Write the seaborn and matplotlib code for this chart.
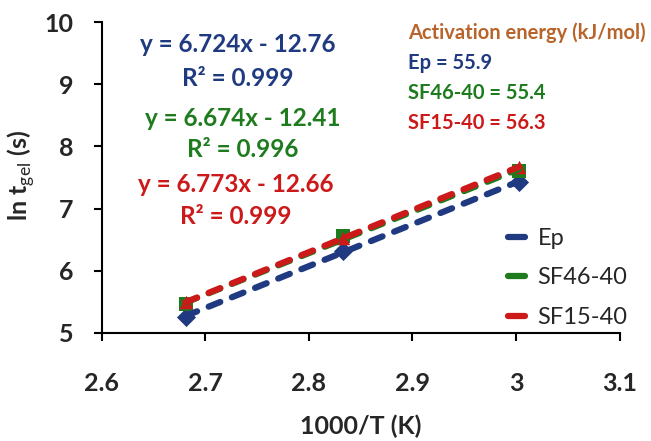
import numpy as np
import pandas as pd
import matplotlib
matplotlib.use('Agg')
import matplotlib.pyplot as plt
from matplotlib.lines import Line2D
import seaborn as sns

# 1000/T values (K^-1 x 1000) and ln(t_gel) readings
inv_temp = [2.681, 2.833, 3.003]
ln_ep = [5.26, 6.32, 7.43]
ln_sf46 = [5.46, 6.56, 7.61]
ln_sf15 = [5.49, 6.53, 7.67]

series_names = ['Ep', 'SF46-40', 'SF15-40']
series_colors = ['#1F3A80', '#1E7B1E', '#CC1A1A']
series_markers = ['D', 's', '^']
fit_labels = [('y = 6.724x - 12.76', 'R² = 0.999'),
              ('y = 6.674x - 12.41', 'R² = 0.996'),
              ('y = 6.773x - 12.66', 'R² = 0.999')]
ea_values = [55.9, 55.4, 56.3]

sns.set_style('ticks')
plt.rcParams['font.family'] = ['Lato', 'DejaVu Sans']
plt.rcParams['mathtext.fontset'] = 'custom'
plt.rcParams['mathtext.rm'] = 'Lato'
plt.rcParams['mathtext.bf'] = 'Lato:bold'

df = pd.DataFrame({'x': inv_temp * 3,
                   'y': ln_ep + ln_sf46 + ln_sf15,
                   'sample': np.repeat(series_names, 3)})

fig = plt.figure(figsize=(6.51, 4.41), dpi=100)
ax = fig.add_axes([0.156, 0.245, 0.796, 0.705])

for name, col, mk in zip(series_names, series_colors, series_markers):
    sub = df[df['sample'] == name]
    sns.regplot(data=sub, x='x', y='y', ax=ax, ci=None, truncate=True,
                marker=mk, color=col,
                scatter_kws=dict(s=95, zorder=2, linewidths=0, alpha=1),
                line_kws=dict(lw=4.5, ls=(0, (2.0, 2.0)), dash_capstyle='round', zorder=3))

ax.set_xlim(2.6, 3.1)
ax.set_ylim(5, 10)
ax.set_xticks([2.6, 2.7, 2.8, 2.9, 3.0, 3.1])
ax.set_xticklabels(['2.6', '2.7', '2.8', '2.9', '3', '3.1'])
ax.set_yticks([5, 6, 7, 8, 9, 10])
for lab in ax.get_xticklabels() + ax.get_yticklabels():
    lab.set_fontweight('bold')
    lab.set_fontsize(18)
ax.tick_params(direction='out', length=6, width=1.5, color='black')
ax.tick_params(axis='x', pad=22)
ax.tick_params(axis='y', pad=14)
for s in ['left', 'bottom']:
    ax.spines[s].set_linewidth(1.5)
    ax.spines[s].set_color('black')
sns.despine(ax=ax)

ax.set_xlabel('1000/T (K)', fontsize=18, fontweight='bold')
ax.set_ylabel(r'ln t$_{\mathrm{gel}}$ (s)', fontsize=18, fontweight='bold')
ax.xaxis.set_label_coords(0.5, -0.262)
ax.yaxis.set_label_coords(-0.125, 0.505)

# trendline equations
eq_pos = [(238, 45, 78), (243, 118, 150), (236, 185, 217)]
for (eq, r2), col, (px, y1, y2) in zip(fit_labels, series_colors, eq_pos):
    fig.text(px / 651, 1 - y1 / 441, eq, color=col, fontsize=17.5, fontweight='bold',
             ha='center', va='center')
    fig.text(px / 651, 1 - y2 / 441, r2, color=col, fontsize=17.5, fontweight='bold',
             ha='center', va='center')

# activation energies
fig.text(408 / 651, 1 - 33 / 441, 'Activation energy (kJ/mol)', color='#B8642A',
         fontsize=14.5, fontweight='bold', ha='left', va='center')
for i, (name, col, ea) in enumerate(zip(series_names, series_colors, ea_values)):
    fig.text(408 / 651, 1 - (63 + 30 * i) / 441, f'{name} = {ea}', color=col,
             fontsize=14.5, fontweight='bold', ha='left', va='center')

handles = [Line2D([], [], color=c, lw=4.5, solid_capstyle='round') for c in series_colors]
ax.legend(handles, series_names, loc='center left',
          bbox_to_anchor=(508 / 651, 1 - 278 / 441), bbox_transform=fig.transFigure,
          frameon=False, fontsize=17, handlelength=0.7, handletextpad=0.55,
          labelspacing=0.78, borderpad=0, borderaxespad=0)

fig.savefig('out.png', dpi=100)
